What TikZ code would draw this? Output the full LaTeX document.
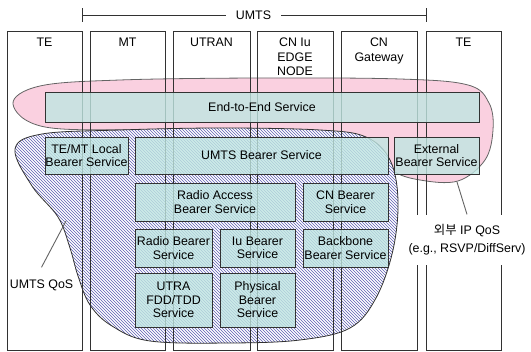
\documentclass[tikz,border=0pt]{standalone}
\usepackage{fontspec}
\setmainfont{Liberation Sans}
\newfontfamily\krfont{Noto Sans CJK KR}
\usetikzlibrary{patterns,positioning}

\definecolor{boxfill}{RGB}{192,230,226}
\definecolor{edgegray}{RGB}{50,50,50}
\definecolor{pinkfill}{RGB}{250,208,224}
\definecolor{hatchblue}{RGB}{95,95,180}
\definecolor{leadergray}{RGB}{100,100,100}

\tikzset{
  txt/.style={font=\fontsize{12.4}{13.5}\selectfont, align=center},
  svc/.style={txt, draw=edgegray, line width=0.8pt, fill=boxfill, fill opacity=0.8,
    text opacity=1, inner sep=0pt, outer sep=0pt, anchor=north west},
  column/.style={draw=edgegray, line width=0.8pt, inner sep=0pt, outer sep=0pt,
    anchor=north west, minimum width=75pt, minimum height=319pt},
  collabel/.style={font=\fontsize{12.4}{14.5}\selectfont, align=center, inner sep=0pt},
  pinkblob/.style={draw=leadergray, line width=0.8pt, fill=pinkfill},
  blueblob/.style={draw=edgegray, line width=0.8pt, preaction={fill=white},
    pattern=north west lines, pattern color=hatchblue},
  leader/.style={draw=leadergray, line width=0.9pt},
  qoslabel/.style={txt, fill=white, inner xsep=2pt},
}

\begin{document}
\begin{tikzpicture}[x=1pt,y=-1pt]
\useasboundingbox (0,0) rectangle (531,352);

% end-to-end QoS region
\draw[pinkblob] plot[smooth cycle, tension=0.6] coordinates {
  (13,104) (40,86) (120,80) (260,78) (400,79) (468,85) (489,103) (493,130)
  (485,160) (458,181) (420,180) (392,170) (375,145) (300,132) (150,130) (45,127)};
\coordinate (pinkedge) at (457,182);

% UMTS QoS region
\draw[blueblob] plot[smooth cycle, tension=0.6] coordinates {
  (15,149) (42,134) (120,130) (220,128) (320,130) (366,137) (390,160) (398,200)
  (393,250) (376,298) (350,328) (300,340) (230,343) (150,341) (112,326) (90,305)
  (78,276) (70,248) (58,217) (32,186)};
\coordinate (blueedge) at (66,221);

% network element columns
\node[column] (colTE)  at (7,31)   {};
\node[column] (colMT)  at (90,31)  {};
\node[column, minimum width=77pt] (colUTRAN) at (173,31) {};
\node[column, minimum width=76pt] (colCN) at (257,31) {};
\node[column, minimum width=76pt] (colGW) at (341,31) {};
\node[column] (colTE2) at (426,31) {};

\node[collabel, below=7pt of colTE.north]    (lTE)    {TE};
\node[collabel, below=7pt of colMT.north]    (lMT)    {MT};
\node[collabel, below=7pt of colUTRAN.north] (lUTRAN) {UTRAN};
\node[collabel, below=7pt of colCN.north]    (lCN)    {CN Iu\\EDGE\\NODE};
\node[collabel, below=7pt of colGW.north]    (lGW)    {CN\\Gateway};
\node[collabel, below=7pt of colTE2.north]   (lTE2)   {TE};

% UMTS span marker
\coordinate (ul) at (82,15);
\coordinate (ur) at (426,15);
\node[collabel, fill=white, inner xsep=10pt, inner ysep=2pt] (umts) at (253.5,15) {UMTS};
\draw[edgegray, line width=0.8pt] (ul) -- (umts.west) (umts.east) -- (ur);
\draw[edgegray, line width=0.8pt] ([yshift=-7pt]ul) -- ([yshift=7pt]ul);
\draw[edgegray, line width=0.8pt] ([yshift=-7pt]ur) -- ([yshift=7pt]ur);

% bearer services
\node[svc, minimum width=434pt, minimum height=30pt] (e2e)   at (45,92)   {End-to-End Service};
\node[svc, minimum width=83pt,  minimum height=37pt] (local) at (45,137)  {TE/MT Local\\Bearer Service};
\node[svc, minimum width=253pt, minimum height=37pt] (umtsb) at (135,137) {UMTS Bearer Service};
\node[svc, minimum width=85pt,  minimum height=37pt] (ext)   at (394,137) {External\\Bearer Service};
\node[svc, minimum width=160pt, minimum height=38pt] (rab)   at (135,183) {Radio Access\\Bearer Service};
\node[svc, minimum width=85pt,  minimum height=38pt] (cnb)   at (303,183) {CN Bearer\\Service};
\node[svc, minimum width=77pt,  minimum height=38pt] (rb)    at (135,229) {Radio Bearer\\Service};
\node[svc, minimum width=75pt,  minimum height=38pt] (iub)   at (220,229) {Iu Bearer\\Service};
\node[svc, minimum width=85pt,  minimum height=38pt] (bbb)   at (303,229) {Backbone\\Bearer Service};
\node[svc, minimum width=77pt,  minimum height=54pt] (utra)  at (135,273) {UTRA\\FDD/TDD\\Service};
\node[svc, minimum width=75pt,  minimum height=54pt] (phys)  at (220,273) {Physical\\Bearer\\Service};

% QoS labels with leaders
\node[qoslabel, inner ysep=12pt] (umtsqos) at (41.5,285) {UMTS QoS};
\draw[leader] (umtsqos.north) -- (blueedge);

\node[qoslabel, inner ysep=10pt, font=\fontsize{12.4}{18}\selectfont] (extqos) at (467,240)
  {{\krfont 외부} IP QoS\\(e.g., RSVP/DiffServ)};
\draw[leader] (extqos.north) -- (pinkedge);
\end{tikzpicture}
\end{document}
